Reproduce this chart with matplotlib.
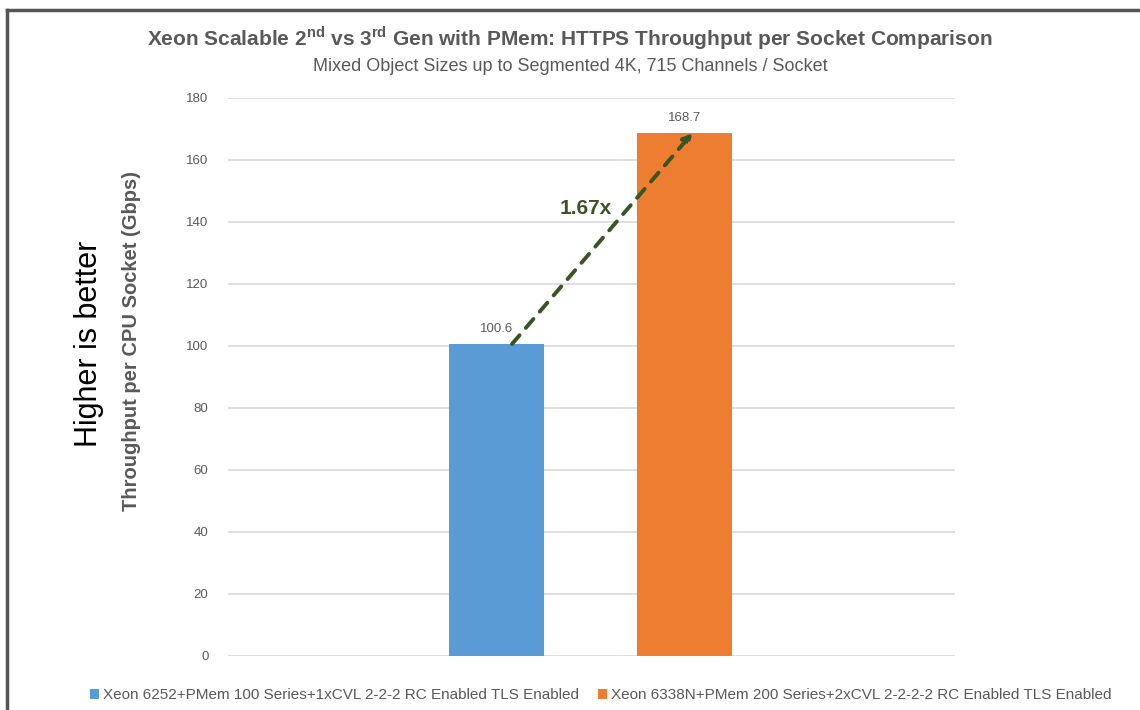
import matplotlib.pyplot as plt
from matplotlib.lines import Line2D
from matplotlib.patches import Patch

series_names = [
    "Xeon 6252+PMem 100 Series+1xCVL 2-2-2 RC Enabled TLS Enabled",
    "Xeon 6338N+PMem 200 Series+2xCVL 2-2-2-2 RC Enabled TLS Enabled",
]
values = [100.6, 168.7]
colors = ["#5B9BD5", "#ED7D31"]
yticks = [0, 20, 40, 60, 80, 100, 120, 140, 160, 180]
speedup_label = "1.67x"

plt.rcParams["font.family"] = ["Liberation Sans", "DejaVu Sans"]

fig = plt.figure(figsize=(11.4, 7.1), dpi=100)
ax = fig.add_axes([0.2, 0.0761, 0.6377, 0.7859])

xpos = [0, 1]
ax.bar(xpos, values, width=0.505, color=colors, zorder=3)
for x, v in zip(xpos, values):
    ax.text(x, v + 3, f"{v:.1f}", ha="center", va="bottom", fontsize=9.5, color="#595959")

ax.set_xlim(-1.43, 2.436)
ax.set_ylim(0, 180)
ax.set_yticks(yticks)
ax.set_xticks([])
ax.tick_params(axis="y", length=0, pad=14, labelsize=9.5, labelcolor="#595959")
ax.grid(axis="y", color="#D9D9D9", linewidth=1.2, zorder=0)
for s in ax.spines.values():
    s.set_visible(False)

# dashed arrow from blue bar top to orange bar top
ax.annotate(
    "",
    xy=(1.04, values[1]),
    xytext=(0.08, values[0]),
    arrowprops=dict(arrowstyle="-|>", color="#375623", lw=2.8, linestyle=(0, (3, 2.5)),
                    mutation_scale=13, shrinkA=0, shrinkB=0),
    zorder=5,
)
ax.text(0.47, 144.5, speedup_label, ha="center", va="center", fontsize=15,
        fontweight="bold", color="#375623", zorder=6)

ax.set_ylabel("Throughput per CPU Socket (Gbps)", fontsize=14.5, fontweight="bold",
              color="#595959")
ax.yaxis.set_label_coords(-0.12, 0.565)
fig.text(0.078, 0.516, "Higher is better", rotation=90, ha="center", va="center",
         fontsize=22, color="black")

fig.text(0.5, 0.947,
         r"Xeon Scalable 2$^{\mathregular{nd}}$ vs 3$^{\mathregular{rd}}$ Gen with PMem: HTTPS Throughput per Socket Comparison",
         ha="center", va="center", fontsize=15, fontweight="bold", color="#595959")
fig.text(0.5, 0.907, "Mixed Object Sizes up to Segmented 4K, 715 Channels / Socket",
         ha="center", va="center", fontsize=13, color="#595959")

handles = [Patch(facecolor=c) for c in colors]
fig.legend(handles, series_names, loc="center", bbox_to_anchor=(0.527, 0.021), ncol=2,
           frameon=False, fontsize=11, handlelength=0.6, handleheight=0.6,
           handletextpad=0.3, columnspacing=1.2, labelcolor="#595959")

# outer frame (top and left edges visible in the reference)
fig.add_artist(Line2D([0.0061, 1.0], [0.986, 0.986], color="#555555", lw=2.5))
fig.add_artist(Line2D([0.0061, 0.0061], [0.0, 0.986], color="#555555", lw=2.5))

fig.savefig("out.png", dpi=100)
